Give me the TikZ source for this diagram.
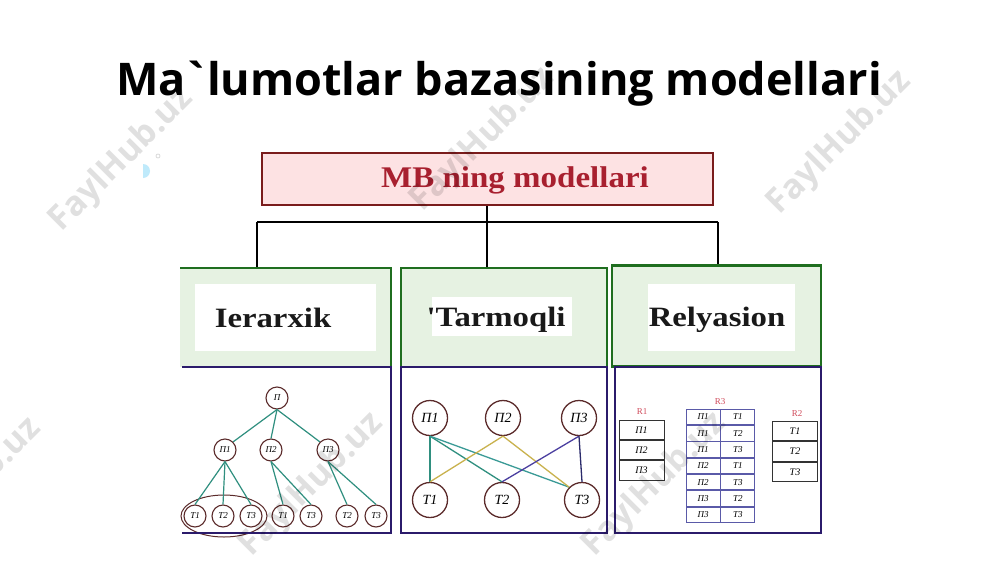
\documentclass[tikz,border=0pt]{standalone}
\usepackage{fontspec}
\setmainfont{Liberation Serif}
\newfontfamily\titlefont{Open Sans}
\usetikzlibrary{shapes.geometric,positioning}
\definecolor{boxred}{HTML}{7A1C1C}
\definecolor{fillred}{HTML}{FDE2E3}
\definecolor{textred}{HTML}{A8202F}
\definecolor{boxgreen}{HTML}{1F6E1F}
\definecolor{fillgreen}{HTML}{E6F2E2}
\definecolor{boxpurple}{HTML}{2B1B6B}
\definecolor{circ}{HTML}{5B2B2B}
\definecolor{teal1}{HTML}{2F8F7F}
\definecolor{teal2}{HTML}{3A9A96}
\definecolor{yel}{HTML}{C9B24E}
\definecolor{violet1}{HTML}{4B3FA0}
\definecolor{navy1}{HTML}{2B2B6B}
\definecolor{cellblue}{HTML}{5A5AA8}
\definecolor{hdrred}{HTML}{D04A5A}
\newcommand{\wide}[2]{\scalebox{#1}[1]{#2}}
\tikzset{
  hc/.style={circle, draw=circ, line width=1.1pt, minimum size=22pt, inner sep=0pt, font=\itshape\fontsize{9}{9}\selectfont},
  nc/.style={circle, draw=circ, line width=1.3pt, minimum size=35pt, inner sep=0pt, font=\itshape\fontsize{14}{14}\selectfont},
  hedge/.style={teal1, line width=1.2pt},
  lbl/.style={font=\bfseries\fontsize{28}{28}\selectfont, text=black!90},
  cellk/.style={draw=black!80, line width=0.9pt, minimum width=45pt, minimum height=19.5pt, inner sep=0pt, font=\itshape\fontsize{10}{10}\selectfont},
  cellb/.style={draw=cellblue, line width=0.9pt, minimum width=34pt, minimum height=15.4pt, inner sep=0pt, font=\itshape\fontsize{9}{9}\selectfont},
  hdr/.style={text=hdrred, font=\fontsize{9}{9}\selectfont, inner sep=0pt},
  wm/.style={text=black, opacity=0.12, rotate=45, font=\titlefont\bfseries\fontsize{34}{34}\selectfont},
  conn/.style={black, line width=2.6pt}
}
\begin{document}
\begin{tikzpicture}[x=1pt,y=-1pt]
\useasboundingbox (0,0) rectangle (1000,562);
\fill[white] (0,0) rectangle (1000,562);
% small decoration
\begin{scope}
\clip (143,150) rectangle (170,190);
\fill[cyan!25!white] (143,171) circle (7);
\end{scope}
\draw[black!15, line width=0.8pt] (158,156) circle (2);
% title
\node (title) at (499,84) {\titlefont\bfseries\fontsize{45}{45}\selectfont Ma\kern-3pt\textasciigrave\kern-3pt lumotlar bazasining modellari};
% top box
\node (top) [draw=boxred, fill=fillred, line width=2.6pt, minimum width=451pt, minimum height=52pt, inner sep=0pt] at (487.5,179) {};
\node (toptext) [text=textred, font=\bfseries\fontsize{30}{30}\selectfont] at (515,180) {\wide{1.1}{MB ning modellari}};
% green boxes
\fill[fillgreen] (180,268) rectangle (391,367);
\draw[boxgreen, line width=2.4pt] (180,268) -- (391,268) -- (391,367);
\node (g2) [draw=boxgreen, fill=fillgreen, line width=2.4pt, minimum width=206pt, minimum height=99pt, inner sep=0pt] at (504,317.5) {};
\node (g3) [draw=boxgreen, fill=fillgreen, line width=2.4pt, minimum width=209pt, minimum height=101pt, inner sep=0pt] at (716.5,316) {};
\fill[white] (195,284) rectangle (376,351);
\fill[white] (432,297) rectangle (572,336);
\fill[white] (648,284) rectangle (795,351);
\node (l1) [lbl] at (273,318) {\wide{1.17}{Ierarxik}};
\node (l2) [lbl] at (496,320) {\wide{1.17}{\textquotesingle Tarmoqli}};
\node (l3) [lbl] at (717,320) {\wide{1.17}{Relyasion}};
% connectors
\coordinate (hl) at (257,222);
\coordinate (hm) at (487,222);
\coordinate (hr) at (718,222);
\draw[conn] (top.south -| hm) -- (hm);
\draw[conn] (hl) -- (hr);
\draw[conn] (hl) -- (hl |- g2.north);
\draw[conn] (hm) -- (hm |- g2.north);
\draw[conn] (hr) -- (hr |- g3.north);
% purple boxes
\fill[white] (182,367) rectangle (391,533);
\node (p2) [draw=boxpurple, fill=white, line width=2.6pt, minimum width=206pt, minimum height=166pt, inner sep=0pt] at (504,450) {};
\node (p3) [draw=boxpurple, fill=white, line width=2.6pt, minimum width=206pt, minimum height=166pt, inner sep=0pt] at (718,450) {};
% hierarchical tree
\node (hP) [hc] at (277,398) {П};
\node (hP1) [hc] at (225,450) {П1};
\node (hP2) [hc] at (271,450) {П2};
\node (hP3) [hc] at (328,450) {П3};
\node (hT1a) [hc] at (195,516) {Т1};
\node (hT2a) [hc] at (223,516) {Т2};
\node (hT3a) [hc] at (251,516) {Т3};
\node (hT1b) [hc] at (283,516) {Т1};
\node (hT3b) [hc] at (311,516) {Т3};
\node (hT2c) [hc] at (347,516) {Т2};
\node (hT3c) [hc] at (376,516) {Т3};
\draw[circ, line width=1pt] (224,516) ellipse (43 and 21);
\draw[hedge] (hP.south) -- (hP1.north east);
\draw[hedge] (hP.south) -- (hP2.north);
\draw[hedge] (hP.south) -- (hP3.north west);
\draw[hedge] (hP1.south) -- (hT1a.north);
\draw[hedge] (hP1.south) -- (hT2a.north);
\draw[hedge] (hP1.south) -- (hT3a.north);
\draw[hedge] (hP2.south) -- (hT1b.north);
\draw[hedge] (hP2.south) -- (hT3b.north);
\draw[hedge] (hP3.south) -- (hT2c.north);
\draw[hedge] (hP3.south) -- (hT3c.north);
\draw[boxpurple, line width=2.6pt] (182,367) -- (391,367) -- (391,533) -- (182,533);
% network
\node (nP1) [nc] at (430,418) {П1};
\node (nP2) [nc] at (503,418) {П2};
\node (nP3) [nc] at (579,418) {П3};
\node (nT1) [nc] at (430,500) {Т1};
\node (nT2) [nc] at (502,500) {Т2};
\node (nT3) [nc] at (582,500) {Т3};
\draw[teal1, line width=1.3pt] (nP1.south) -- (nT1.north);
\draw[teal1, line width=1.3pt] (nP1.south) -- (nT2.north);
\draw[teal2, line width=1.3pt] (nP1.south) -- (nT3.north west);
\draw[yel, line width=1.3pt] (nP2.south) -- (nT1.north);
\draw[yel, line width=1.3pt] (nP2.south) -- (nT3.north west);
\draw[violet1, line width=1.3pt] (nP3.south) -- (nT2.north);
\draw[navy1, line width=1.3pt] (nP3.south) -- (nT3.north);
% relational
\node (r1h) [hdr] at (642,412) {R1};
\node (r1a) [cellk] at (641.5,429.75) {П1};
\node (r1b) [cellk, below=0pt of r1a] {П2};
\node (r1c) [cellk, below=0pt of r1b] {П3};
\node (r2h) [hdr] at (797,414) {R2};
\node (r2a) [cellk] at (795,431) {Т1};
\node (r2b) [cellk, below=0pt of r2a] {Т2};
\node (r2c) [cellk, below=0pt of r2b] {Т3};
\node (r3h) [hdr] at (720,402) {R3};
\node (a1) [cellb] at (703,417) {П1};
\node (b1) [cellb, right=0pt of a1] {Т1};
\node (a2) [cellb, below=0pt of a1] {П1};
\node (b2) [cellb, right=0pt of a2] {Т2};
\node (a3) [cellb, below=0pt of a2] {П1};
\node (b3) [cellb, right=0pt of a3] {Т3};
\node (a4) [cellb, below=0pt of a3] {П2};
\node (b4) [cellb, right=0pt of a4] {Т1};
\node (a5) [cellb, below=0pt of a4] {П2};
\node (b5) [cellb, right=0pt of a5] {Т3};
\node (a6) [cellb, below=0pt of a5] {П3};
\node (b6) [cellb, right=0pt of a6] {Т2};
\node (a7) [cellb, below=0pt of a6] {П3};
\node (b7) [cellb, right=0pt of a7] {Т3};
% watermarks
\node[wm] (w1) at (122,160) {FaylHub.uz};
\node[wm] (w2) at (483,140) {FaylHub.uz};
\node[wm] (w3) at (840,143) {FaylHub.uz};
\node[wm] (w4) at (-30,490) {FaylHub.uz};
\node[wm] (w5) at (312,485) {FaylHub.uz};
\node[wm] (w6) at (655,485) {FaylHub.uz};
\end{tikzpicture}
\end{document}
